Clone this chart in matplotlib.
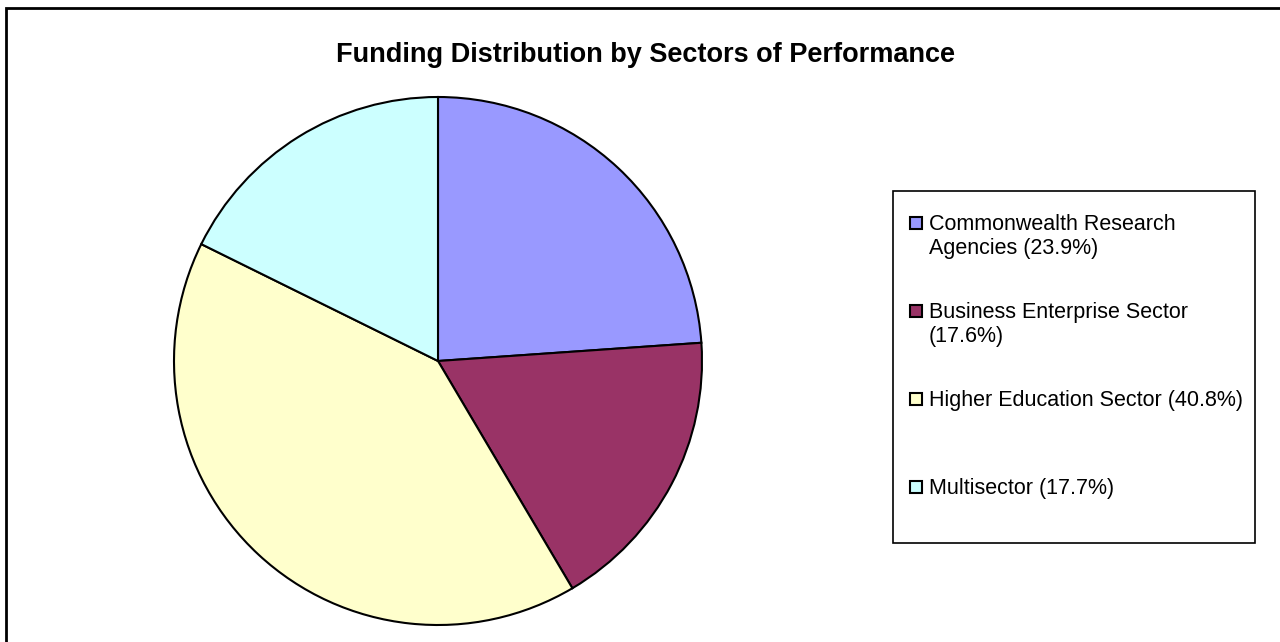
import matplotlib
matplotlib.use("Agg")
import matplotlib.pyplot as plt
from matplotlib.patches import Rectangle

plt.rcParams['font.family'] = ['Liberation Sans', 'DejaVu Sans']

# data
sectors = ["Commonwealth Research\nAgencies", "Business Enterprise Sector\n", "Higher Education Sector", "Multisector"]
shares = [23.9, 17.6, 40.8, 17.7]
colours = ["#9999FF", "#993366", "#FFFFCC", "#CCFFFF"]
title = "Funding Distribution by Sectors of Performance"

W, H = 1280, 642
fig = plt.figure(figsize=(W / 100, H / 100), dpi=100)

def fx(x):
    return x / W

def fy(y):
    return 1 - y / H

# outer chart frame (runs off the right and bottom edges)
fig.patches.append(Rectangle((fx(6), fy(700)), fx(1400), 700 / H - 8 / H + 0.0,
                             transform=fig.transFigure, fill=False,
                             edgecolor="black", lw=2))

fig.text(fx(646), fy(55), title, ha="center", va="center",
         fontsize=19.5, fontweight="bold")

# pie, centre (438, 361), radius 264 px
ax = fig.add_axes([fx(174), fy(625), 528 / W, 528 / H])
ax.pie(shares, colors=colours, startangle=90, counterclock=False,
       wedgeprops=dict(edgecolor="black", linewidth=1.5))
ax.set_xlim(-1, 1)
ax.set_ylim(-1, 1)
ax.set_aspect("equal")
ax.axis("off")

# legend box
fig.patches.append(Rectangle((fx(893), fy(543)), (1255 - 893) / W, (543 - 191) / H,
                             transform=fig.transFigure, fill=False,
                             edgecolor="black", lw=1.2))

for i, (name, pct, c) in enumerate(zip(sectors, shares, colours)):
    base = 230 + 88 * i
    lines = name.split("\n")
    if len(lines) > 1 and lines[1] == "":
        lines = [lines[0], f"({pct}%)"]
    elif len(lines) > 1:
        lines[-1] = lines[-1] + f" ({pct}%)"
    else:
        lines[0] = lines[0] + f" ({pct}%)"
    fig.patches.append(Rectangle((fx(910), fy(base - 1)), 12 / W, 12 / H,
                                 transform=fig.transFigure, facecolor=c,
                                 edgecolor="black", lw=1.5))
    for j, ln in enumerate(lines):
        fig.text(fx(929), fy(base + 24 * j), ln, ha="left", va="baseline",
                 fontsize=15.5)

fig.savefig("out.png", dpi=100)
